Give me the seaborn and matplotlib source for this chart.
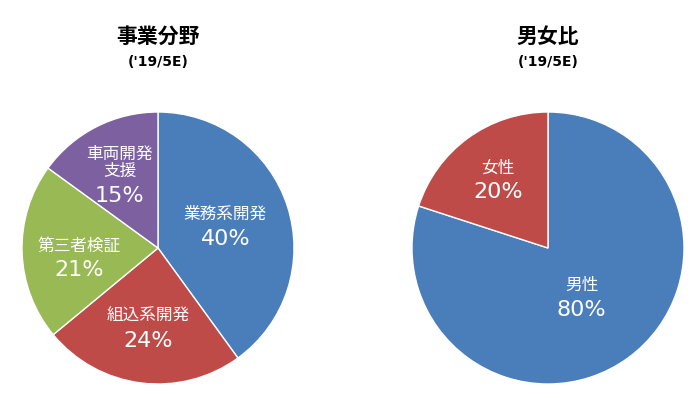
import numpy as np
import matplotlib
matplotlib.use("Agg")
import matplotlib.pyplot as plt
import seaborn as sns

# data
biz_names = ["業務系開発", "組込系開発", "第三者検証", "車両開発\n支援"]
biz_share = [40, 24, 21, 15]
sex_names = ["男性", "女性"]
sex_share = [80, 20]

titles = ["事業分野", "男女比"]
subtitle = "('19/5E)"

sns.set_theme(style="white")
plt.rcParams['font.family'] = ['DejaVu Sans', 'Noto Sans CJK JP']

pal = sns.color_palette(["#4A7EBB", "#BE4B48", "#98B954", "#7D60A0"])

W, H = 700, 398
fig = plt.figure(figsize=(W / 100, H / 100), dpi=100)
R = 136  # pie radius in px


def draw_pie(cx, cy, names, share, label_r, nudge, title):
    ax = fig.add_axes([(cx - R) / W, (H - cy - R) / H, 2 * R / W, 2 * R / H])
    wedges, _ = ax.pie(share, colors=pal[:len(share)], startangle=90, counterclock=False,
                       radius=1, wedgeprops=dict(edgecolor="white", linewidth=1))
    ax.set_xlim(-1.0, 1.0)
    ax.set_ylim(-1.0, 1.0)
    ax.set_aspect("equal")
    ax.axis("off")
    px = 1.0 / R
    for w, name, val, r, dy in zip(wedges, names, share, label_r, nudge):
        ang = np.deg2rad((w.theta1 + w.theta2) / 2)
        x, y = r * np.cos(ang), r * np.sin(ang) + dy * px
        ax.text(x, y + 3 * px, name, ha="center", va="bottom", color="white",
                fontsize=12, linespacing=0.95)
        ax.text(x, y - 3 * px, f"{val}%", ha="center", va="top", color="white",
                fontsize=16)
    fig.text(cx / W, 1 - 37 / H, title, ha="center", va="center", fontsize=15,
             fontweight="bold", color="black")
    fig.text(cx / W, 1 - 61.5 / H, subtitle, ha="center", va="center", fontsize=10,
             fontweight="bold", color="black")


draw_pie(158, 248, biz_names, biz_share, [0.52, 0.59, 0.58, 0.62], [0, 0, -7, -10], titles[0])
draw_pie(548, 248, sex_names, sex_share, [0.42, 0.625], [-3, 0], titles[1])

fig.savefig("out.png", dpi=100, facecolor="white")
